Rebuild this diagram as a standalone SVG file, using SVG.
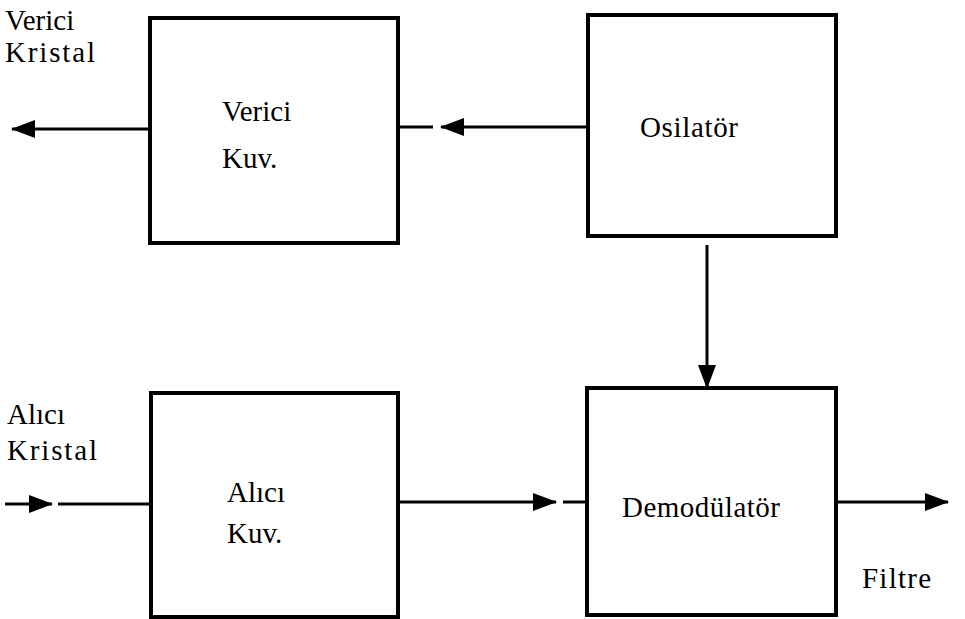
<svg xmlns="http://www.w3.org/2000/svg" width="965" height="619" viewBox="0 0 965 619">
<defs>
<style>
.box{fill:none;stroke:#000;stroke-width:4}
.ln{fill:none;stroke:#000;stroke-width:3}
.t{font-family:"Liberation Serif","DejaVu Serif","Noto Serif",serif;font-size:29px;fill:#000}
</style>
<marker id="ah" markerUnits="userSpaceOnUse" markerWidth="24" markerHeight="18" refX="23" refY="9" orient="auto">
<path d="M0,0 L24,9 L0,18 Z" fill="#000"/>
</marker>
</defs>
<rect width="965" height="619" fill="#fff"/>
<g id="verici-kuv">
<rect class="box" x="150" y="18" width="248" height="225"/>
<text class="t" x="222" y="121">Verici</text>
<text class="t" x="222" y="168">Kuv.</text>
</g>
<g id="osilator">
<rect class="box" x="588" y="15" width="248" height="221"/>
<text class="t" x="640" y="137" textLength="98">Osilatör</text>
</g>
<g id="alici-kuv">
<rect class="box" x="151" y="393" width="247" height="224"/>
<text class="t" x="227" y="502">Alıcı</text>
<text class="t" x="227" y="543">Kuv.</text>
</g>
<g id="demodulator">
<rect class="box" x="587" y="388" width="249" height="227"/>
<text class="t" x="622" y="517" textLength="158">Demodülatör</text>
</g>
<g id="labels">
<text class="t" x="5" y="30">Verici</text>
<text class="t" x="5" y="62" textLength="90">Kristal</text>
<text class="t" x="7" y="424">Alıcı</text>
<text class="t" x="7" y="460" textLength="90">Kristal</text>
<text class="t" x="862" y="588" textLength="69">Filtre</text>
</g>
<g id="connectors">
<line class="ln" x1="150" y1="129" x2="12" y2="129" marker-end="url(#ah)"/>
<line class="ln" x1="588" y1="127" x2="441" y2="127" marker-end="url(#ah)"/>
<line class="ln" x1="398" y1="127" x2="433" y2="127"/>
<line class="ln" x1="5" y1="504" x2="52" y2="504" marker-end="url(#ah)"/>
<line class="ln" x1="58" y1="504" x2="151" y2="504"/>
<line class="ln" x1="398" y1="502" x2="556" y2="502" marker-end="url(#ah)"/>
<line class="ln" x1="563" y1="502" x2="587" y2="502"/>
<line class="ln" x1="707" y1="245" x2="707" y2="388" marker-end="url(#ah)"/>
<line class="ln" x1="836" y1="502" x2="948" y2="502" marker-end="url(#ah)"/>
</g>
</svg>
